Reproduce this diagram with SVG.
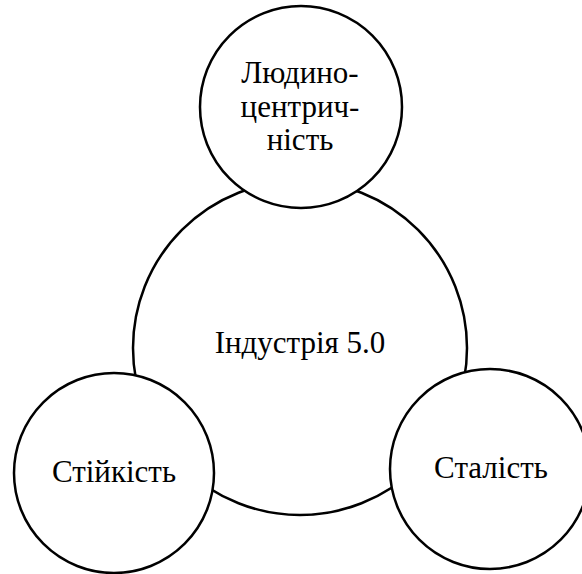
<svg xmlns="http://www.w3.org/2000/svg" width="582" height="574" viewBox="0 0 582 574">
<style>
.c{fill:#fff;stroke:#000;stroke-width:2.5}
.t{font-family:"Liberation Serif","Times New Roman",serif;font-size:31px;fill:#000;text-anchor:middle}
</style>
<rect width="582" height="574" fill="#fff"/>
<g id="connectors"></g>
<g id="center">
<circle class="c" cx="300" cy="348" r="167"/>
<text class="t" x="300" y="353">Індустрія 5.0</text>
</g>
<g id="top">
<circle class="c" cx="301" cy="107" r="101"/>
<text class="t" x="300" y="83">Людино-</text>
<text class="t" x="300" y="117">центрич-</text>
<text class="t" x="300" y="150">ність</text>
</g>
<g id="left">
<circle class="c" cx="114" cy="473" r="100"/>
<text class="t" x="114" y="482">Стійкість</text>
</g>
<g id="right">
<circle class="c" cx="490" cy="469" r="100"/>
<text class="t" x="491" y="478">Сталість</text>
</g>
</svg>
